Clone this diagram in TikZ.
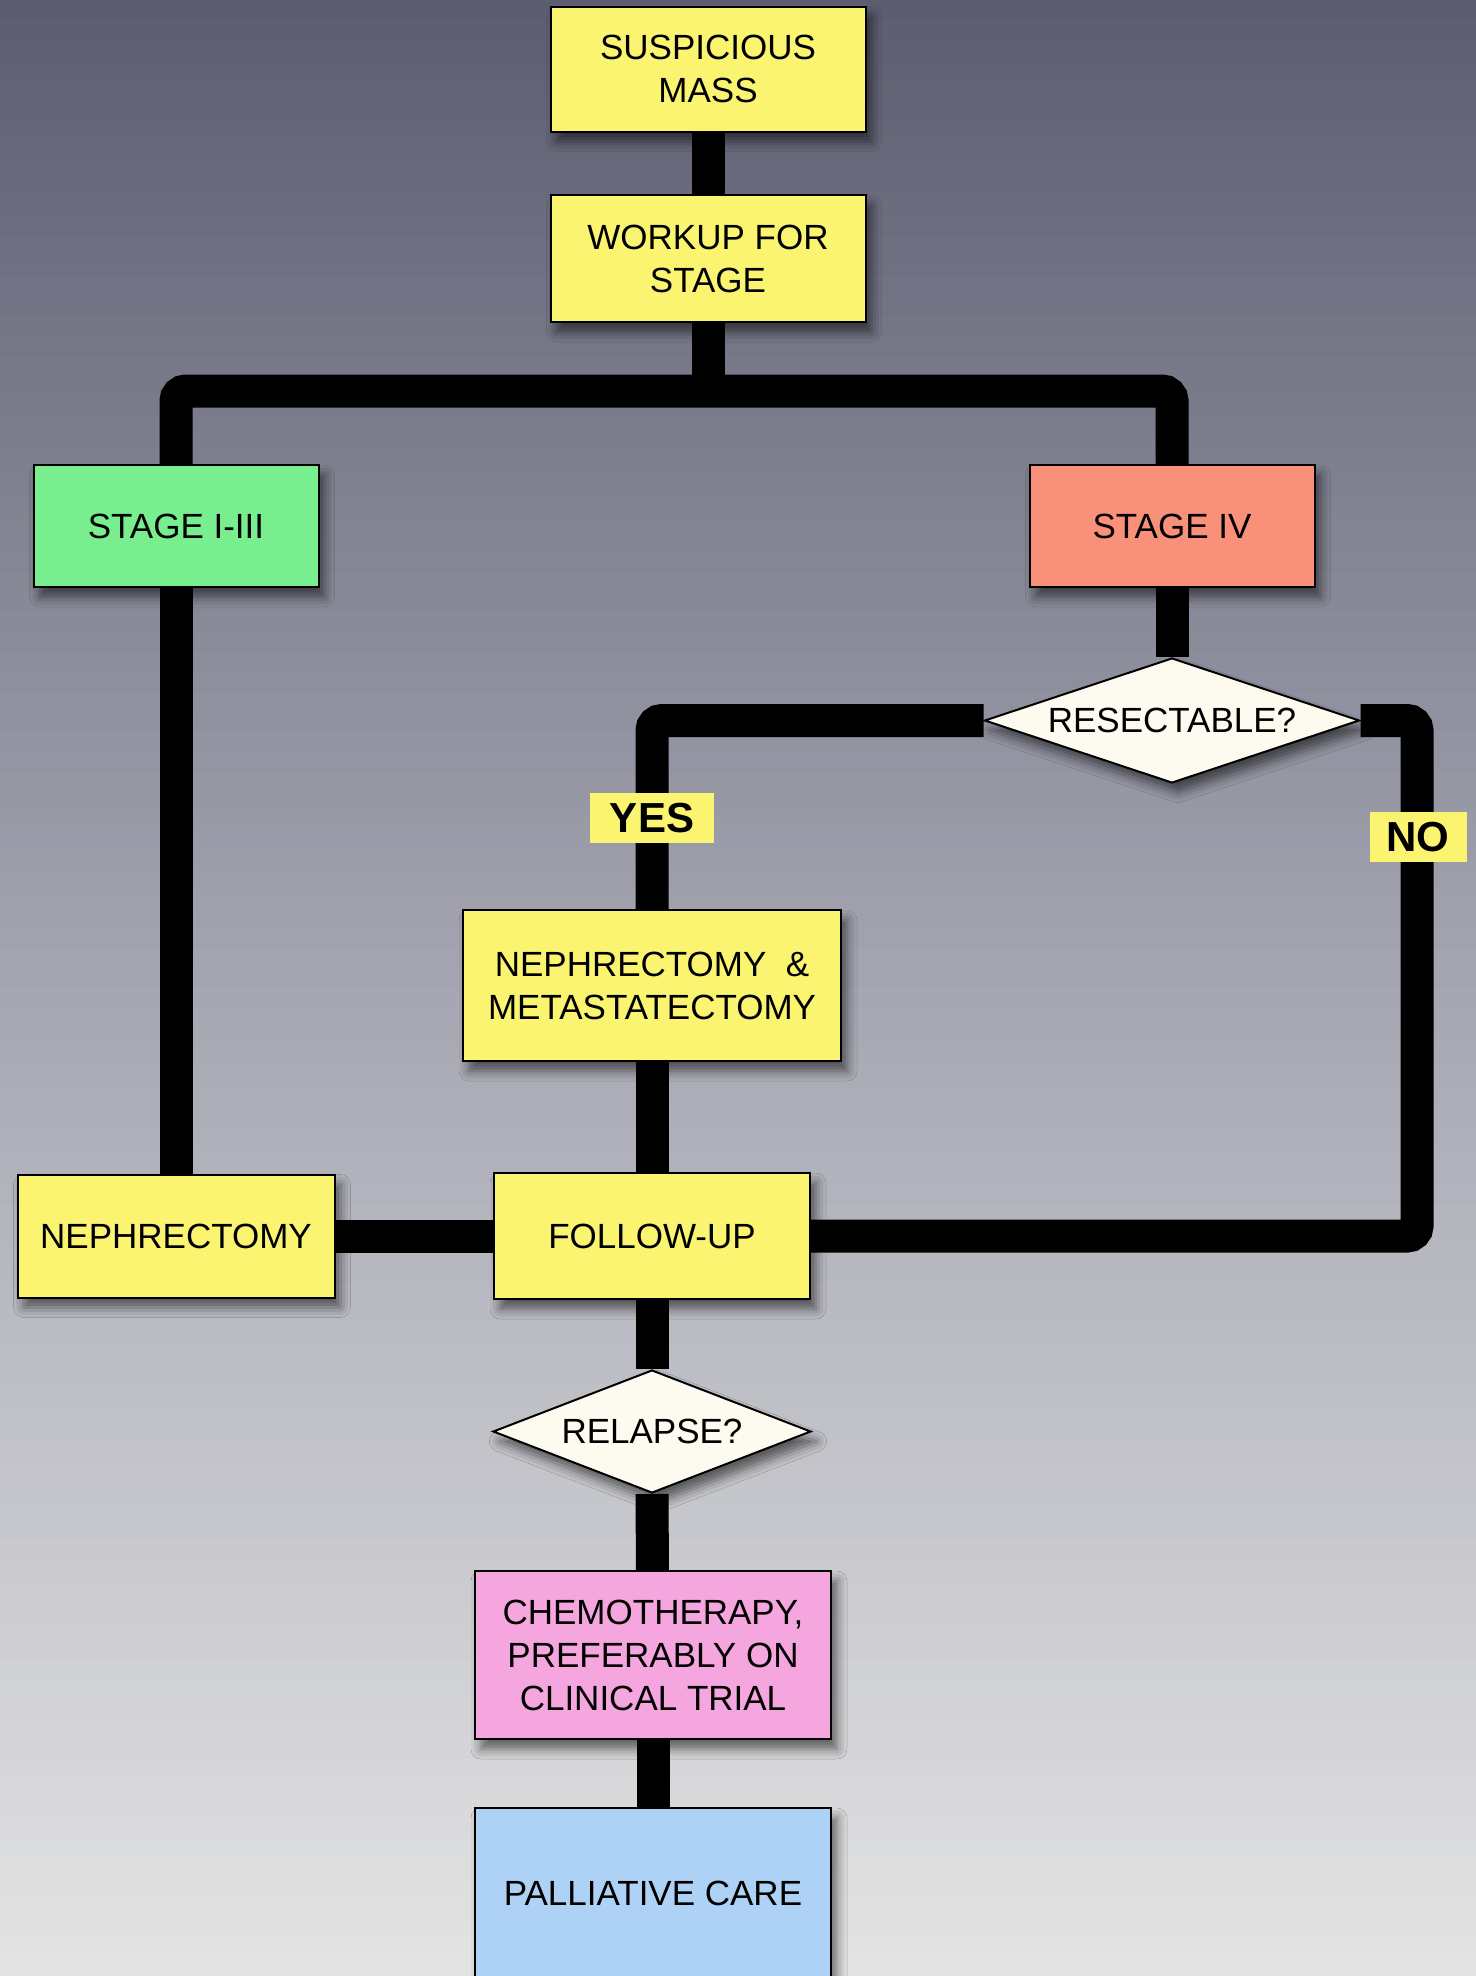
\documentclass[tikz,border=0pt]{standalone}
\usepackage{fontspec}
\setmainfont{Liberation Sans}
\usetikzlibrary{shapes.geometric,shadows.blur}

\definecolor{bgtop}{RGB}{92,93,112}
\definecolor{bgmid}{RGB}{166,167,178}
\definecolor{bgbot}{RGB}{228,228,228}
\definecolor{boxyellow}{RGB}{250,244,112}
\definecolor{boxgreen}{RGB}{120,238,142}
\definecolor{boxsalmon}{RGB}{248,144,122}
\definecolor{boxpink}{RGB}{245,166,222}
\definecolor{boxblue}{RGB}{174,210,245}
\definecolor{ivory}{RGB}{253,251,240}

\pgfdeclarelayer{paper}
\pgfdeclarelayer{wires}
\pgfsetlayers{paper,wires,main}

\tikzset{
  card/.style={draw=black, line width=1pt, align=center, inner sep=0pt,
    font=\fontsize{17.5}{21.5}\selectfont,
    blur shadow={shadow xshift=3pt, shadow yshift=-5pt, shadow blur radius=5pt, shadow opacity=55}},
  query/.style={card, diamond, fill=ivory, aspect=3},
  answer/.style={fill=boxyellow, inner sep=0pt, font=\fontsize{21}{24}\selectfont\bfseries},
  wire/.style={line width=16.5pt, black, rounded corners=5pt}
}

\begin{document}
\begin{tikzpicture}[x=0.5pt, y=-0.5pt]
\useasboundingbox (0,0) rectangle (1476,1976);

\node[card, fill=boxyellow, minimum width=157.5pt, minimum height=62.5pt] (mass) at (708,69) {SUSPICIOUS\\MASS};
\node[card, fill=boxyellow, minimum width=157.5pt, minimum height=63.5pt] (workup) at (708,258.5) {WORKUP FOR\\STAGE};
\coordinate (split) at (708,391);

\node[card, fill=boxgreen, minimum width=142.5pt, minimum height=61pt] (stage13) at (176,526) {STAGE I-III};
\node[card, fill=boxsalmon, minimum width=142.5pt, minimum height=61pt] (stage4) at (1172,526) {STAGE IV};
\node[query, minimum width=187.5pt, minimum height=62.5pt] (resect) at (1172,720.5) {RESECTABLE?};

\node[card, fill=boxyellow, minimum width=189pt, minimum height=75.5pt] (metast) at (652,985.5) {NEPHRECTOMY \ \&\\METASTATECTOMY};
\node[card, fill=boxyellow, minimum width=158.5pt, minimum height=61.5pt] (neph) at (176,1236) {NEPHRECTOMY};
\node[card, fill=boxyellow, minimum width=158pt, minimum height=63pt] (followup) at (652,1236) {FOLLOW-UP};
\coordinate (noturn) at (1417,1236);

\node[query, minimum width=159pt, minimum height=61.5pt] (relapse) at (652,1431.5) {RELAPSE?};
\node[card, fill=boxpink, minimum width=178pt, minimum height=84pt] (chemo) at (653,1655) {CHEMOTHERAPY,\\PREFERABLY ON\\CLINICAL TRIAL};
\node[card, fill=boxblue, minimum width=178pt, minimum height=85pt] (palliative) at (653,1893) {PALLIATIVE CARE};

\node[answer, minimum width=62pt, minimum height=25pt] (yes) at (652,818) {YES};
\node[answer, minimum width=48.5pt, minimum height=25pt] (no) at (1418,837) {NO};

% backdrop, dark slate at the top fading to light grey
% (kept after the shadowed nodes so the layer boxes are not emptied)
\begin{pgfonlayer}{paper}
\foreach \i in {0,...,49} {
  \pgfmathtruncatemacro\p{100-2*\i}
  \fill[bgtop!\p!bgmid] (0,\i*19.76) rectangle (1476,\i*19.76+21);
}
\foreach \i in {50,...,99} {
  \pgfmathtruncatemacro\p{200-2*\i}
  \fill[bgmid!\p!bgbot] (0,\i*19.76) rectangle (1476,\i*19.76+21);
}
\end{pgfonlayer}

\begin{pgfonlayer}{wires}
\draw[wire] (mass) -- (workup);
\draw[wire] (workup) -- (split);
\draw[wire] (stage13) |- (split) -| (stage4);
\draw[wire] (stage13) -- (neph);
\draw[wire] (stage4) -- (resect.north);
\draw[wire] (resect.west) -| (metast.north);
\draw[wire] (resect.east) -| (noturn) -- (followup.east);
\draw[wire] (metast) -- (followup);
\draw[wire] (neph) -- (followup);
\draw[wire] (followup) -- (relapse.north);
\draw[wire] (relapse.south) -- (chemo);
\draw[wire] (chemo) -- (palliative);
\end{pgfonlayer}
\end{tikzpicture}
\end{document}
